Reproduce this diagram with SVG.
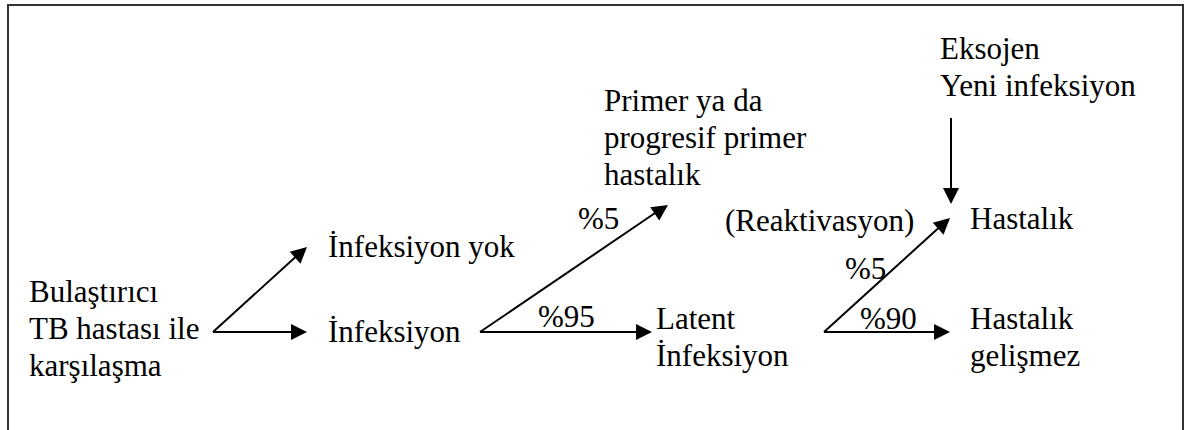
<svg xmlns="http://www.w3.org/2000/svg" width="1185" height="430" viewBox="0 0 1185 430">
  <defs>
    <!-- arrowhead with its tip at the origin, pointing along +x -->
    <path id="ah" d="M0,0 L-16,-8 L-16,8 Z" fill="#000"/>
  </defs>

  <!-- outer frame (open at the bottom edge) -->
  <rect x="8" y="5" width="1175" height="445" fill="#fff" stroke="#333" stroke-width="2"/>

  <!-- labels share one serif face -->
  <g font-family="Tinos, 'Liberation Serif', 'Times New Roman', serif" font-size="31" fill="#000">
    <g id="exposure">
      <text x="29" y="302">Bulaştırıcı</text>
      <text x="29" y="339">TB hastası ile</text>
      <text x="29" y="376">karşılaşma</text>
    </g>
    <g id="no-infection">
      <text x="328" y="257">İnfeksiyon yok</text>
    </g>
    <g id="infection">
      <text x="328" y="342">İnfeksiyon</text>
    </g>
    <g id="primary-disease">
      <text x="604" y="111">Primer ya da</text>
      <text x="604" y="148">progresif primer</text>
      <text x="604" y="185">hastalık</text>
    </g>
    <g id="latent-infection">
      <text x="656" y="329">Latent</text>
      <text x="656" y="366">İnfeksiyon</text>
    </g>
    <g id="exogenous">
      <text x="940" y="59">Eksojen</text>
      <text x="940" y="96">Yeni infeksiyon</text>
    </g>
    <g id="disease">
      <text x="970" y="229">Hastalık</text>
    </g>
    <g id="no-disease">
      <text x="970" y="329">Hastalık</text>
      <text x="970" y="366">gelişmez</text>
    </g>
    <g id="edge-labels">
      <text x="578" y="229">%5</text>
      <text x="538" y="327">%95</text>
      <text x="725" y="231">(Reaktivasyon)</text>
      <text x="845" y="279">%5</text>
      <text x="860" y="329">%90</text>
    </g>
  </g>

  <!-- connectors: shafts stop short of the tip, heads placed by <use> -->
  <g id="connectors">
    <g stroke="#000" stroke-width="2" fill="none">
      <line x1="213" y1="332" x2="301" y2="252"/>
      <line x1="213" y1="332" x2="299" y2="332"/>
      <line x1="480" y1="332" x2="661" y2="209"/>
      <line x1="480" y1="332" x2="644" y2="332"/>
      <line x1="824" y1="332" x2="944" y2="223"/>
      <line x1="824" y1="332" x2="942" y2="332"/>
      <line x1="951" y1="118" x2="951" y2="196"/>
    </g>
    <use href="#ah" transform="translate(307,247) rotate(-42.1)"/>
    <use href="#ah" transform="translate(307,332)"/>
    <use href="#ah" transform="translate(668,205) rotate(-34)"/>
    <use href="#ah" transform="translate(652,332)"/>
    <use href="#ah" transform="translate(950,218) rotate(-42.1)"/>
    <use href="#ah" transform="translate(950,332)"/>
    <use href="#ah" transform="translate(951,204) rotate(90)"/>
  </g>
</svg>
